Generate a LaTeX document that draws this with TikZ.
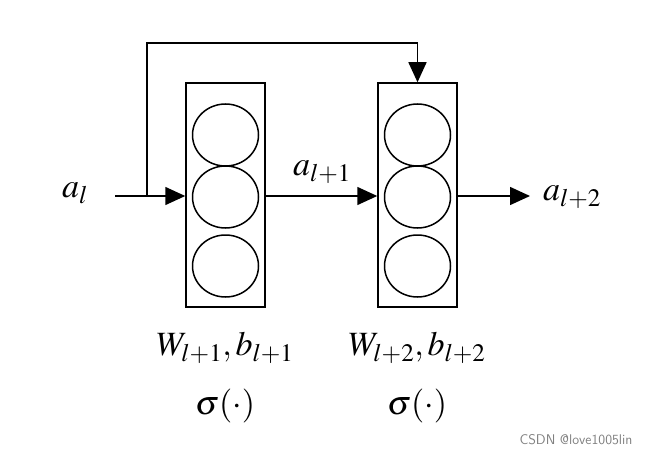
\documentclass[tikz,border=0pt]{standalone}
\usepackage{mathptmx}
\usetikzlibrary{arrows.meta,shapes.geometric}
\begin{document}
\begin{tikzpicture}[x=1pt,y=-1pt,
  box/.style={draw,line width=1.5pt,minimum width=79pt,minimum height=224pt,inner sep=0},
  neur/.style={draw,line width=1.5pt,ellipse,minimum width=66pt,minimum height=62pt,inner sep=0},
  arr/.style={line width=1.5pt,-{Triangle[length=20pt,width=18pt]}},
  lab/.style={font=\fontsize{34}{40}\selectfont,inner sep=0pt}]
\useasboundingbox (0,0) rectangle (648,460);
\node[box] (b1) at (225.5,195) {};
\node[box] (b2) at (417.5,195) {};
\foreach \b/\x in {1/225.5,2/417.5}{
  \node[neur] (n\b a) at (\x,135) {};
  \node[neur] (n\b b) at (\x,197) {};
  \node[neur] (n\b c) at (\x,266) {};
}
\node[lab] (al) at (75,193) {$a_l$};
\coordinate (in) at (115,196);
\coordinate (split) at (147,196);
\coordinate (out) at (530,196);
\node[lab] (al1) at (322,172) {$a_{l+1}$};
\node[lab] (al2) at (572,197) {$a_{l+2}$};
\draw[arr] (in) -- (b1.west|-in);
\draw[arr] (split) -- (147,43) -- (417.5,43) -- (b2.north);
\draw[arr] (b1.east|-in) -- (b2.west|-in);
\draw[arr] (b2.east|-in) -- (out);
\node[lab] (w1) at (225,348) {$W_{l+1},b_{l+1}$};
\node[lab] (w2) at (417,348) {$W_{l+2},b_{l+2}$};
\node[lab] (s1) at (225,406) {$\sigma(\cdot)$};
\node[lab] (s2) at (417,406) {$\sigma(\cdot)$};
\node[text=gray,font=\sffamily\fontsize{14}{16}\selectfont] (wm) at (576,440) {CSDN @love1005lin};
\end{tikzpicture}
\end{document}
